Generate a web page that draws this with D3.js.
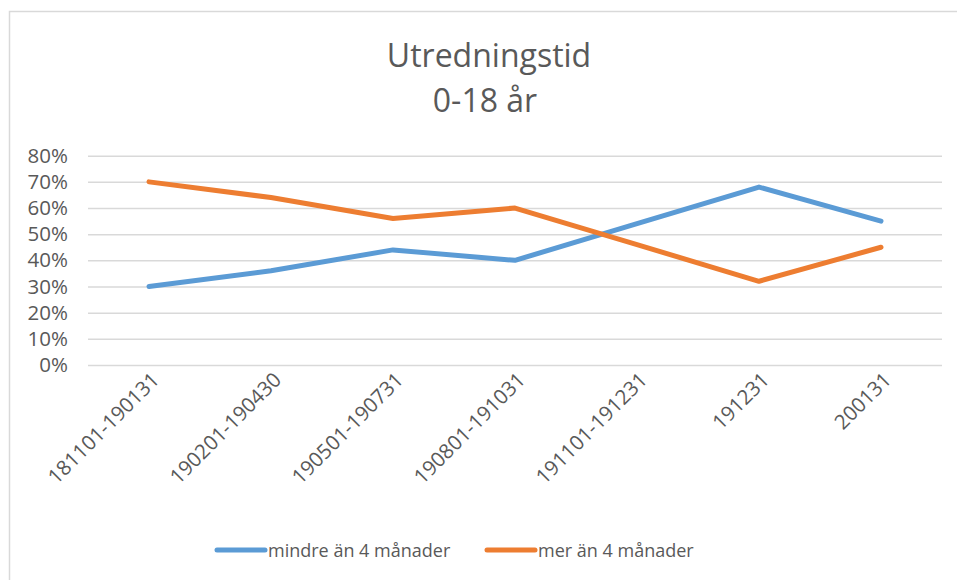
<!DOCTYPE html>
<html>
<head>
<meta charset="utf-8">
<script src="https://cdn.jsdelivr.net/npm/d3@7"></script>
<style>
  body { margin: 0; background: #fff; }
  text { font-family: "Open Sans", sans-serif; fill: #595959; }
</style>
</head>
<body>
<script>
// chart data
let categories = ['181101-190131', '190201-190430', '190501-190731', '190801-191031', '191101-191231', '191231', '200131'];
let lessThan4 = [0.30, 0.36, 0.44, 0.40, 0.54, 0.68, 0.55];
let moreThan4 = [0.70, 0.64, 0.56, 0.60, 0.46, 0.32, 0.45];
let seriesNames = ['mindre än 4 månader', 'mer än 4 månader'];
let yTicks = [0, 0.1, 0.2, 0.3, 0.4, 0.5, 0.6, 0.7, 0.8];
let titleLines = ['Utredningstid', '0-18 år'];

let width = 957;
let height = 580;
let colors = ['#5b9bd5', '#ed7d31'];

let svg = d3.select('body').append('svg')
  .attr('width', width)
  .attr('height', height);

// outer frame (right/bottom edges fall outside the picture)
svg.append('rect')
  .attr('x', 9.5).attr('y', 11.5)
  .attr('width', 960).attr('height', 600)
  .attr('fill', 'none')
  .attr('stroke', '#d9d9d9')
  .attr('stroke-width', 1.5);

// title
svg.append('text')
  .attr('x', 489).attr('y', 67)
  .attr('text-anchor', 'middle')
  .style('font-size', '32px')
  .text(titleLines[0]);
svg.append('text')
  .attr('x', 485).attr('y', 112)
  .attr('text-anchor', 'middle')
  .style('font-size', '32px')
  .text(titleLines[1]);

// scales
let xScale = d3.scalePoint()
  .domain(categories)
  .range([88, 942])
  .padding(0.5);
let yScale = d3.scaleLinear()
  .domain([0, 0.8])
  .range([365, 155.7]);

// gridlines + y labels
let yAxis = d3.axisLeft(yScale)
  .tickValues(yTicks)
  .tickFormat(d3.format('.0%'))
  .tickSize(-(942 - 88))
  .tickPadding(20);
let gy = svg.append('g')
  .attr('transform', 'translate(88,0)')
  .call(yAxis);
gy.select('.domain').remove();
gy.selectAll('line').attr('stroke', '#d9d9d9').attr('stroke-width', 1.5);
gy.selectAll('text')
  .style('font-size', '20.5px')
  .attr('fill', '#595959');

// x labels, rotated
let xAxis = d3.axisBottom(xScale).tickSize(0);
let gx = svg.append('g')
  .attr('transform', 'translate(0,365)')
  .call(xAxis);
gx.select('.domain').remove();
gx.selectAll('text')
  .style('font-size', '20.5px')
  .attr('fill', '#595959')
  .attr('text-anchor', 'end')
  .attr('dy', 0)
  .attr('transform', 'translate(9,14) rotate(-45)');

// lines
let line = d3.line()
  .x((d, i) => xScale(categories[i]))
  .y(d => yScale(d));
[lessThan4, moreThan4].forEach((values, k) => {
  svg.append('path')
    .datum(values)
    .attr('d', line)
    .attr('fill', 'none')
    .attr('stroke', colors[k])
    .attr('stroke-width', 5)
    .attr('stroke-linecap', 'round')
    .attr('stroke-linejoin', 'round');
});

// legend
let legendX = [217, 487];
seriesNames.forEach((name, k) => {
  svg.append('line')
    .attr('x1', legendX[k]).attr('x2', legendX[k] + 48)
    .attr('y1', 550).attr('y2', 550)
    .attr('stroke', colors[k])
    .attr('stroke-width', 5)
    .attr('stroke-linecap', 'round');
  svg.append('text')
    .attr('x', legendX[k] + 51)
    .attr('y', 556.5)
    .style('font-size', '18px')
    .text(name);
});
</script>
</body>
</html>
